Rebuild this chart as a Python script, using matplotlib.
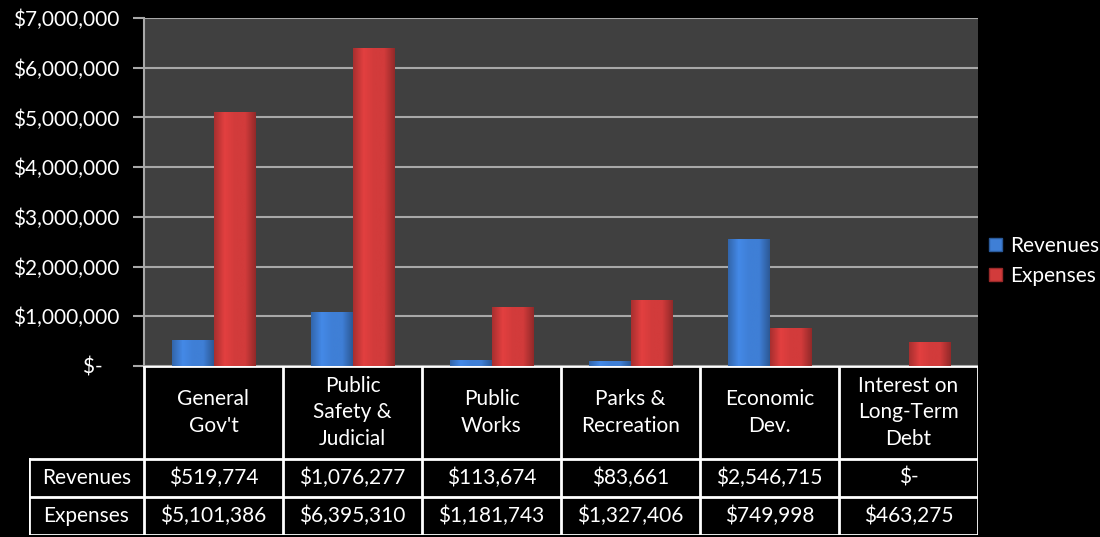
import numpy as np
import matplotlib.pyplot as plt
from matplotlib.patches import Patch
from matplotlib.colors import LinearSegmentedColormap, to_rgb

plt.rcParams['font.family'] = ['Lato', 'DejaVu Sans']

# data
categories = ["General\nGov't", "Public\nSafety &\nJudicial", "Public\nWorks",
              "Parks &\nRecreation", "Economic\nDev.", "Interest on\nLong-Term\nDebt"]
revenues = [519774, 1076277, 113674, 83661, 2546715, 0]
expenses = [5101386, 6395310, 1181743, 1327406, 749998, 463275]
series_names = ["Revenues", "Expenses"]
yticks = [0, 1000000, 2000000, 3000000, 4000000, 5000000, 6000000, 7000000]

blue = "#3f7fd6"
red = "#d23b3b"
fs = 15


def money(v):
    if v == 0:
        return "$-"
    return "${:,}".format(v)


def shade(ax, bars, base):
    # horizontal gradient inside each bar to mimic the bevel look
    rgb = np.array(to_rgb(base))
    cmap = LinearSegmentedColormap.from_list("g", [
        tuple(rgb * 0.8), tuple(np.clip(rgb * 1.08, 0, 1)), base, base, tuple(rgb * 0.7)])
    grad = np.linspace(0, 1, 64).reshape(1, -1)
    for b in bars:
        if b.get_height() <= 0:
            continue
        x0 = b.get_x()
        ax.imshow(grad, cmap=cmap, aspect='auto', zorder=3,
                  extent=(x0, x0 + b.get_width(), 0, b.get_height()))
        b.set_facecolor('none')


W, H = 1100, 537
fig = plt.figure(figsize=(W / 100, H / 100), dpi=100, facecolor='black')

left, right, top, zero = 144, 978, 18, 366
ax = fig.add_axes([left / W, 1 - zero / H, (right - left) / W, (zero - top) / H])
ax.set_facecolor('#404040')

n = len(categories)
x = np.arange(n)
bw = 0.295
b1 = ax.bar(x - bw / 2, revenues, bw, color=blue, zorder=3, edgecolor='none')
b2 = ax.bar(x + bw / 2, expenses, bw, color=red, zorder=3, edgecolor='none')
shade(ax, b1, blue)
shade(ax, b2, red)

ax.set_xlim(-0.5, n - 0.5)
ax.set_ylim(0, 7000000)
ax.set_yticks(yticks)
# accounting style: the dash for zero sits a little left of the other labels
ax.set_yticklabels([money(v) + ("   " if v == 0 else "") for v in yticks],
                   color='white', fontsize=fs)
ax.set_xticks([])
ax.grid(axis='y', color='#a8a8a8', linewidth=1.5, zorder=1)
ax.set_axisbelow(True)
for s in ['top', 'right', 'bottom']:
    ax.spines[s].set_visible(False)
ax.spines['left'].set_color('#a8a8a8')
ax.spines['left'].set_linewidth(1.5)
ax.tick_params(axis='y', colors='#a8a8a8', length=8, width=1.5, pad=10,
               labelcolor='white')

# data table under the plot
tleft, tbottom = 29, 535
tax = fig.add_axes([tleft / W, 1 - tbottom / H, (right - tleft) / W, (tbottom - zero) / H])
tax.set_facecolor('black')
lab_w = (left - tleft) / ((right - left) / n)
tax.set_xlim(-lab_w, n)
tax.set_ylim(0, tbottom - zero)
tax.axis('off')

row_h = 38
head_top = tbottom - zero
lc = 'white'
lw = 2
tax.plot([0, n], [head_top, head_top], color=lc, lw=lw)
for yy in [0, row_h, 2 * row_h]:
    tax.plot([-lab_w, n], [yy, yy], color=lc, lw=lw)
for xx in range(n + 1):
    tax.plot([xx, xx], [0, head_top], color=lc, lw=lw)
tax.plot([-lab_w, -lab_w], [0, 2 * row_h], color=lc, lw=lw)

head_mid = (head_top + 2 * row_h) / 2
for i, c in enumerate(categories):
    tax.text(i + 0.5, head_mid, c, color='white', fontsize=fs, ha='center',
             va='center', linespacing=1.4)
rows = [revenues, expenses]
for r, (name, vals) in enumerate(zip(series_names, rows)):
    yc = 2 * row_h - row_h * (r + 0.5)
    tax.text(-lab_w / 2, yc, name, color='white', fontsize=fs, ha='center', va='center')
    for i, v in enumerate(vals):
        tax.text(i + 0.5, yc, money(v), color='white', fontsize=fs,
                 ha='center', va='center')

handles = [Patch(facecolor=blue, edgecolor='#2a5a9a'), Patch(facecolor=red, edgecolor='#9a2a2a')]
leg = fig.legend(handles, series_names, loc='center left',
                 bbox_to_anchor=(989 / W, 1 - 261 / H), frameon=False,
                 borderaxespad=0, borderpad=0,
                 handlelength=0.6, handleheight=0.6, handletextpad=0.4,
                 labelspacing=0.5, fontsize=fs)
for t in leg.get_texts():
    t.set_color('white')

fig.savefig('out.png', dpi=100, facecolor='black')
